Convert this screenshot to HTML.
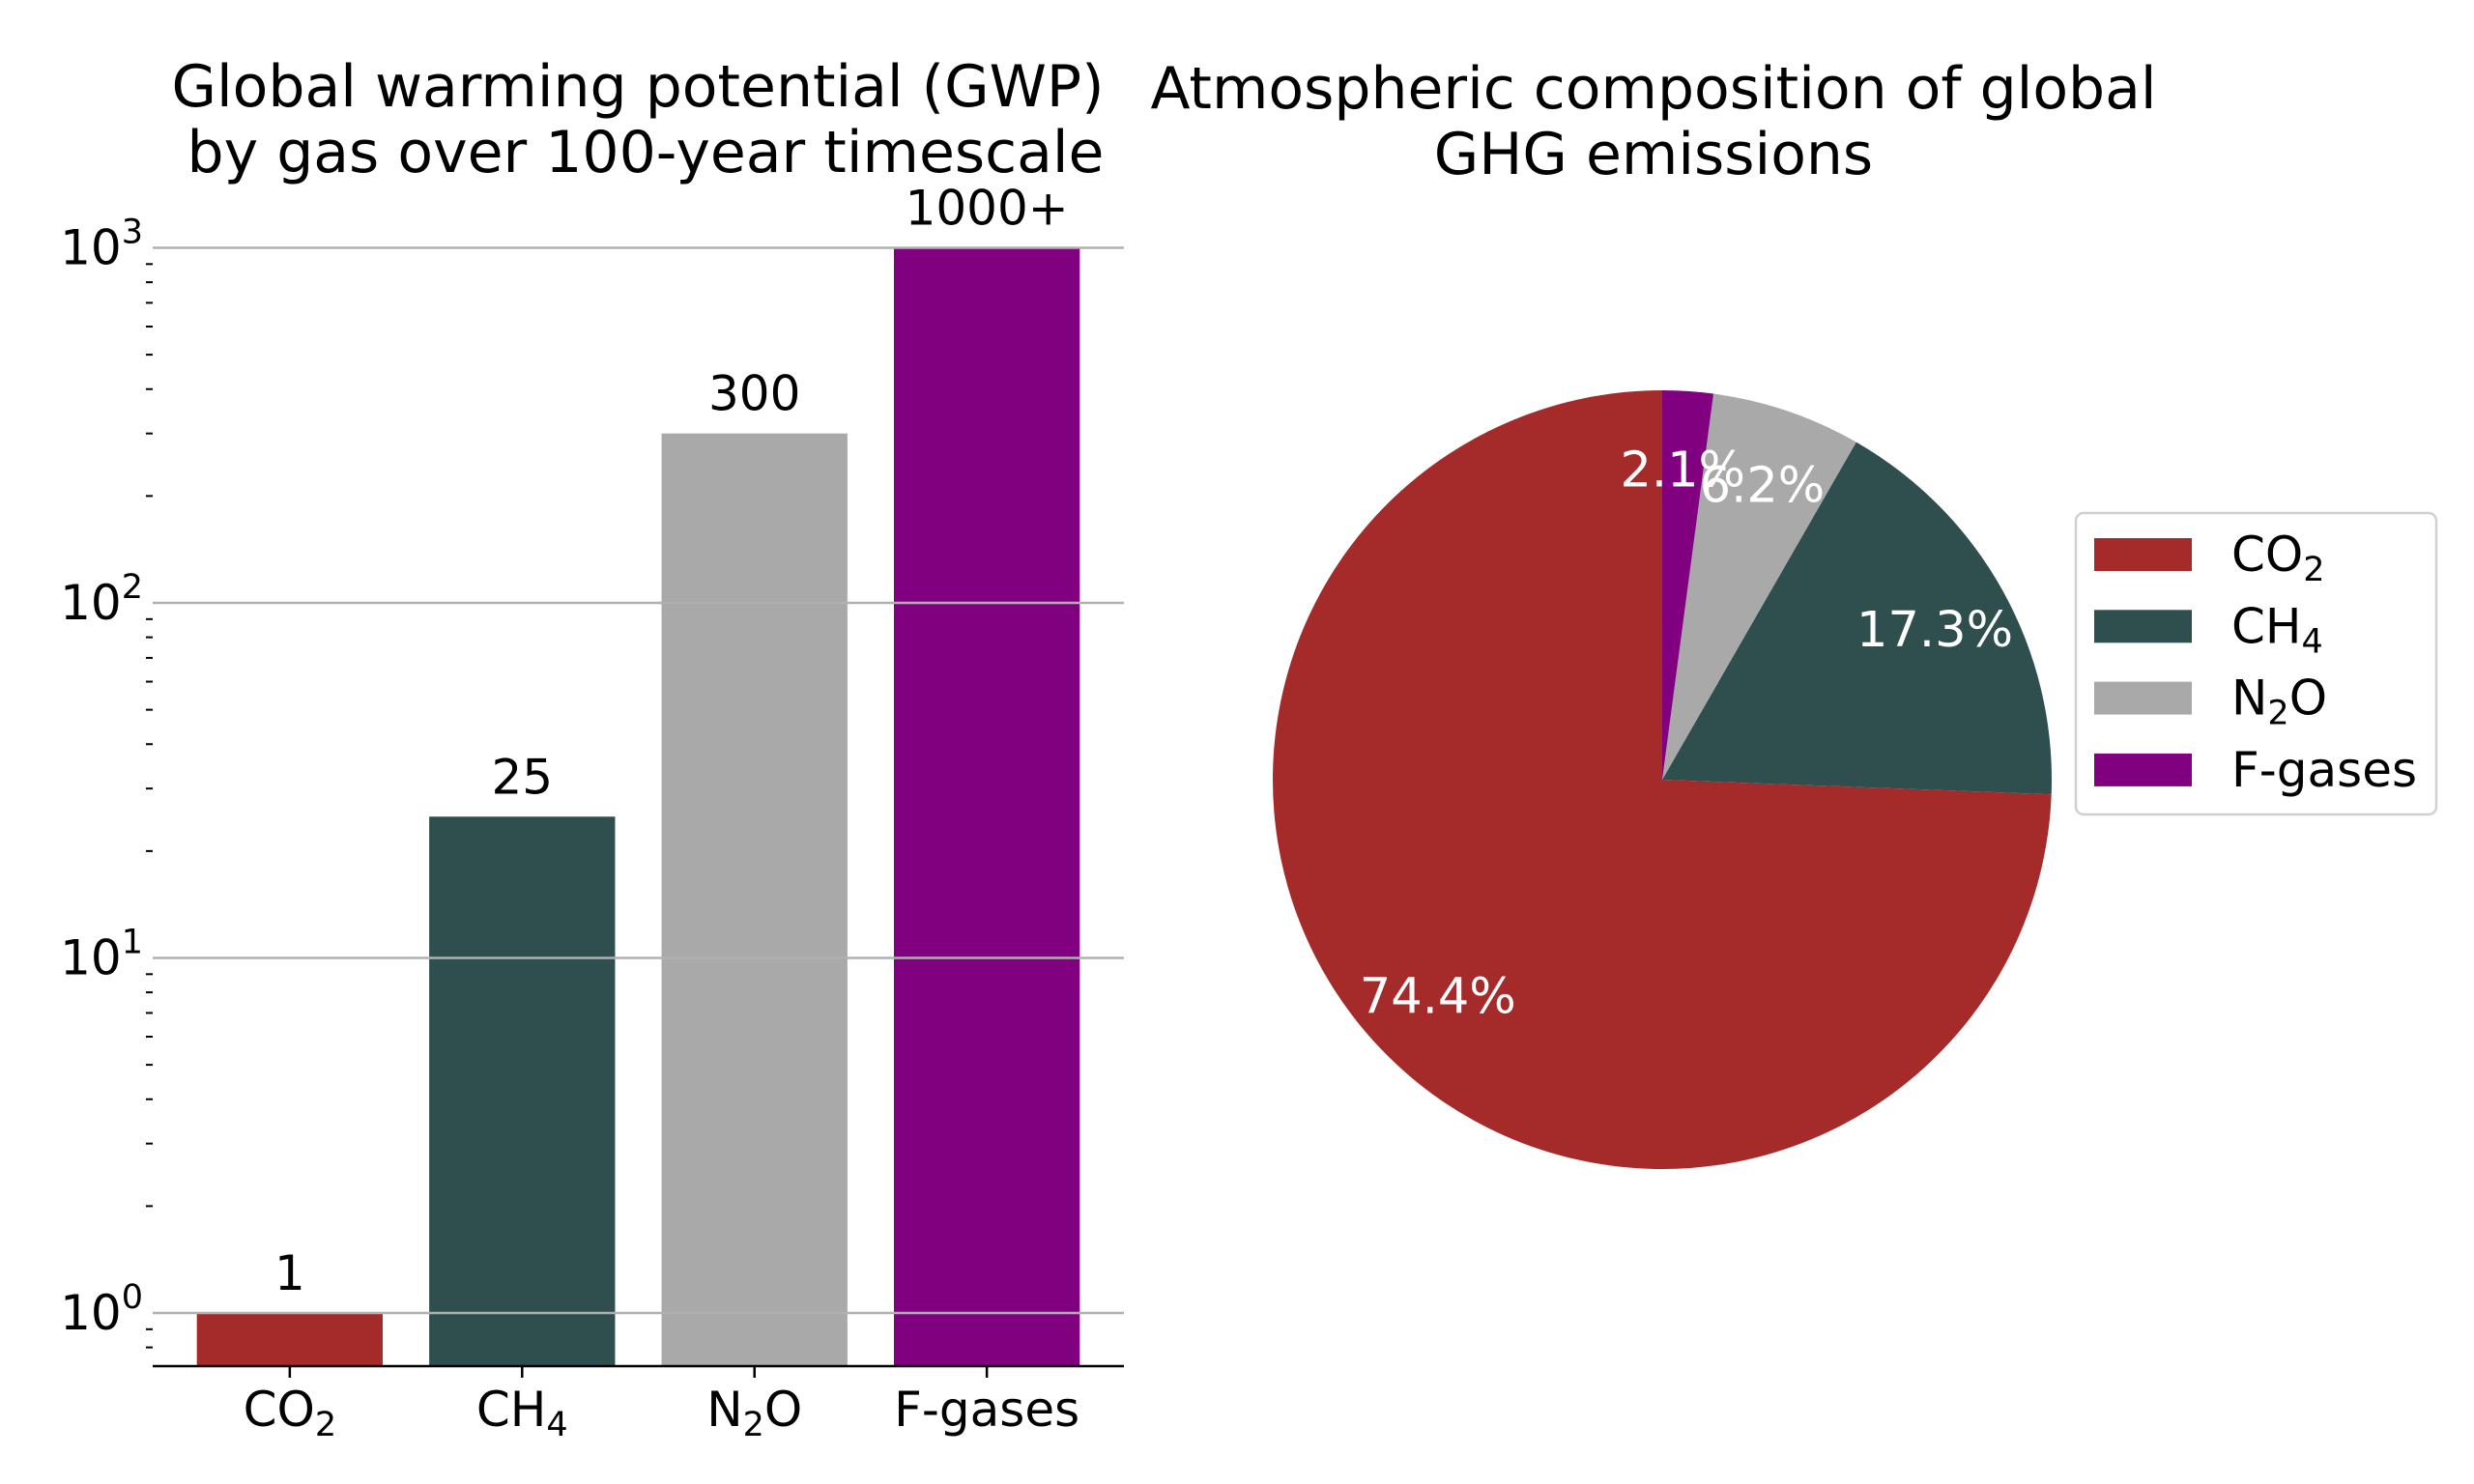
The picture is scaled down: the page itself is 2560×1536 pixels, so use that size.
<!DOCTYPE html>
<html><head><meta charset="utf-8"><style>
html,body{margin:0;padding:0;background:#fff;}
svg{display:block;font-family:"DejaVu Sans","Liberation Sans",sans-serif;}
</style></head><body>
<svg id="chart" width="2560" height="1536" viewBox="0 0 2560 1536">
<g id="bar"></g>
<g id="pie"></g>
</svg>
<script>
const barCategories = ["CO2","CH4","N2O","F-gases"];
const barSubs = ["2","4","2",""];
const barValues = [1, 25, 300, 1000];
const barLabels = ["1","25","300","1000+"];
const barColors = ["#a52a2a","#2f4f4f","#a9a9a9","#800080"];
const yTickExps = [0,1,2,3];
const pieValues = [74.4, 17.3, 6.2, 2.1];
const pieLabels = ["74.4%","17.3%","6.2%","2.1%"];

const NS="http://www.w3.org/2000/svg";
function mk(tag, attrs, parent){const e=document.createElementNS(NS,tag);for(const k in attrs)e.setAttribute(k,attrs[k]);parent.appendChild(e);return e;}
const svgRoot=document.getElementById('chart');
const bar=document.getElementById('bar');
const pie=document.getElementById('pie');

const axL=158, axR=1163, y0px=1359, decade=367.5, axBottom=1414;
function yScale(v){return y0px - Math.log10(v)*decade;}
const n=barCategories.length;
const xmin=-0.59, xmax=n-1+0.59;
function xScale(i){return axL+(i-xmin)/(xmax-xmin)*(axR-axL);}
const bw=0.8*(axR-axL)/(xmax-xmin);

let t=mk('text',{x:660,y:110,'font-size':60,'text-anchor':'middle',fill:'#000'},svgRoot);
t.textContent="Global warming potential (GWP)";


t=mk('text',{x:668,y:178,'font-size':60,'text-anchor':'middle',fill:'#000'},svgRoot);
t.textContent="by gas over 100-year timescale";



barValues.forEach((v,i)=>{
  const cx=xScale(i), top=yScale(v);
  const r=mk('rect',{x:cx-bw/2,y:top,width:bw,height:axBottom-top,fill:barColors[i]},bar);
  
  
  const l=mk('text',{x:cx,y:top-24,'font-size':50,'text-anchor':'middle',fill:'#000'},bar);
  l.textContent=barLabels[i];
  
  
});
yTickExps.forEach(e=>{
  const y=yScale(Math.pow(10,e));
  const g=mk('line',{x1:axL,x2:axR,y1:y,y2:y,stroke:'#b0b0b0','stroke-width':2.5},bar);
  
  
  const tx=mk('text',{x:148,y:y+17,'font-size':50,'text-anchor':'end',fill:'#000'},bar);
  tx.innerHTML='10<tspan dy="-22" font-size="35">'+e+'</tspan>';
  
  
});
for(let e=-1;e<=2;e++){for(let m=2;m<=9;m++){const v=m*Math.pow(10,e);const y=yScale(v);if(y>axBottom||y<yScale(1000))continue;
  const mt=mk('line',{x1:151,x2:158,y1:y,y2:y,stroke:'#000','stroke-width':2},bar);
  
  }}
let sp=mk('line',{x1:axL,x2:axR,y1:axBottom,y2:axBottom,stroke:'#000','stroke-width':2.5},bar);


barCategories.forEach((c,i)=>{
  const cx=xScale(i);
  const tk=mk('line',{x1:cx,x2:cx,y1:axBottom,y2:axBottom+12,stroke:'#000','stroke-width':2.5},bar);
  
  
  const tx=mk('text',{x:cx,y:1476,'font-size':50,'text-anchor':'middle',fill:'#000'},bar);
  if(c==="N2O") tx.innerHTML='N<tspan dy="10" font-size="35">2</tspan><tspan dy="-10">O</tspan>';
  else if(barSubs[i]) tx.innerHTML=c.slice(0,-1)+'<tspan dy="10" font-size="35">'+barSubs[i]+'</tspan>';
  else tx.textContent=c;
  
  
});

t=mk('text',{x:1711,y:112,'font-size':60,'text-anchor':'middle',fill:'#000'},svgRoot);
t.textContent="Atmospheric composition of global";


t=mk('text',{x:1711,y:180,'font-size':60,'text-anchor':'middle',fill:'#000'},svgRoot);
t.textContent="GHG emissions";


const pcx=1720, pcy=807, pr=403;
const total=pieValues.reduce((a,b)=>a+b,0);
let ang=90;
pieValues.forEach((v,i)=>{
  const sweep=v/total*360, a1=ang, a2=ang+sweep;
  const p=a=>[pcx+pr*Math.cos(a*Math.PI/180), pcy-pr*Math.sin(a*Math.PI/180)];
  const [x1,y1]=p(a1),[x2,y2]=p(a2);
  const path=mk('path',{d:`M${pcx},${pcy} L${x1},${y1} A${pr},${pr} 0 ${sweep>180?1:0} 0 ${x2},${y2} Z`,fill:barColors[i]},pie);
  
  
  ang=a2;
});
ang=90;
pieValues.forEach((v,i)=>{
  const sweep=v/total*360, a1=ang, a2=ang+sweep;
  const mid=(a1+a2)/2*Math.PI/180;
  const lx=pcx+0.8*pr*Math.cos(mid), ly=pcy-0.8*pr*Math.sin(mid);
  const l=mk('text',{x:lx,y:ly+18,'font-size':51,'text-anchor':'middle',fill:'#fff'},pie);
  l.textContent=pieLabels[i];
  
  
  ang=a2;
});
const lg=mk('g',{},pie);


const lb=mk('rect',{x:2148,y:531,width:373,height:312,rx:8,fill:'#fff',stroke:'#d0d0d0','stroke-width':2.5},lg);


barCategories.forEach((c,i)=>{
  const y=574+i*74.3;
  const e=mk('g',{},lg);
  
  
  mk('rect',{x:2167,y:y-17,width:101,height:34,fill:barColors[i]},e);
  const tx=mk('text',{x:2309,y:y+17,'font-size':50,fill:'#000'},e);
  if(c==="N2O") tx.innerHTML='N<tspan dy="10" font-size="35">2</tspan><tspan dy="-10">O</tspan>';
  else if(barSubs[i]) tx.innerHTML=c.slice(0,-1)+'<tspan dy="10" font-size="35">'+barSubs[i]+'</tspan>';
  else tx.textContent=c;
});
</script>
</body></html>
